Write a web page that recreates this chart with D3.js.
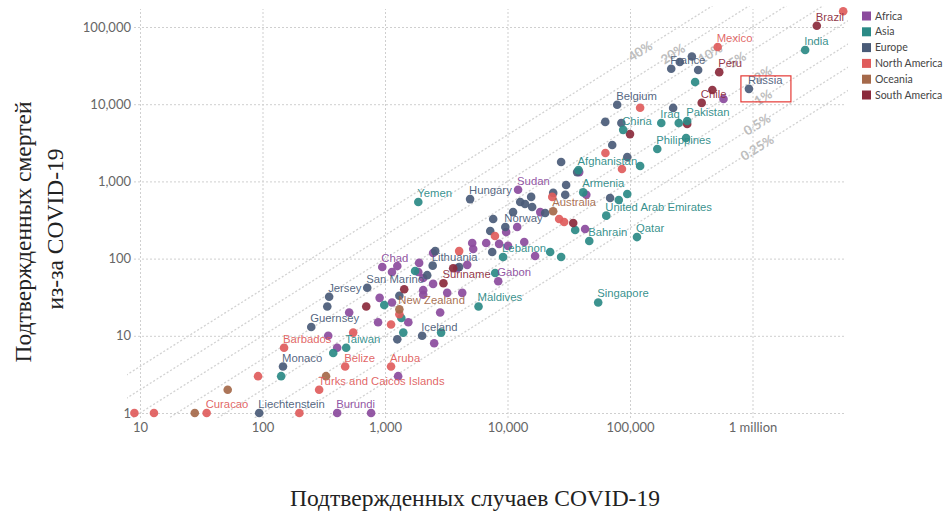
<!DOCTYPE html>
<html><head><meta charset="utf-8">
<script src="https://cdn.jsdelivr.net/npm/d3@7"></script>
<style>body{margin:0;background:#fff}svg{display:block}</style>
</head><body>
<svg id="chart" width="948" height="512"></svg>
<script>
// ---------- data ----------
const continents = ["Africa","Asia","Europe","North America","Oceania","South America"];
const continentColors = ["#8b4b9d","#2b8a86","#4a5b78","#e05c5c","#a5694a","#8b2a3c"];

const xTicks = [10,100,1000,10000,100000,1000000];
const xTickLabels = ["10","100","1,000","10,000","100,000","1 million"];
const yTicks = [1,10,100,1000,10000,100000];
const yTickLabels = ["1","10","100","1,000","10,000","100,000"];

const rates = [0.4,0.2,0.1,0.05,0.02,0.01,0.005,0.0025];
const rateLabels = ["40%","20%","10%","5%","2%","1%","0.5%","0.25%"];
const rateLabelCases = [121000,224000,452000,750000,1220000,1220000,1090000,1090000];

// labelled countries: name, continent, confirmed cases, confirmed deaths
const labelled = [
  ["Brazil","South America",3350000,104000],
  ["Mexico","North America",520000,55000],
  ["India","Asia",2690000,50400],
  ["Peru","South America",535000,26000],
  ["France","Europe",217000,28800],
  ["Russia","Europe",935000,15800],
  ["Chile","South America",385000,10400],
  ["Belgium","Europe",78600,9850],
  ["Iraq","Asia",180000,5700],
  ["Pakistan","Asia",293000,6050],
  ["China","Asia",88000,4650],
  ["Philippines","Asia",167000,2630],
  ["Afghanistan","Asia",38000,1400],
  ["Armenia","Asia",41500,720],
  ["Sudan","Africa",12200,780],
  ["Hungary","Europe",4950,590],
  ["Yemen","Asia",1870,540],
  ["Australia","Oceania",23600,410],
  ["Norway","Europe",9600,257],
  ["United Arab Emirates","Asia",64000,360],
  ["Bahrain","Asia",46500,169],
  ["Qatar","Asia",114000,190],
  ["Lebanon","Asia",9200,105],
  ["Chad","Africa",950,78],
  ["Lithuania","Europe",2450,81],
  ["San Marino","Europe",716,42],
  ["Suriname","South America",3000,48],
  ["Gabon","Africa",8400,51],
  ["Jersey","Europe",350,32],
  ["New Zealand","Oceania",1310,22],
  ["Maldives","Asia",5800,24],
  ["Singapore","Asia",55000,27],
  ["Guernsey","Europe",250,13],
  ["Iceland","Europe",2010,10],
  ["Barbados","North America",150,7],
  ["Taiwan","Asia",482,7],
  ["Monaco","Europe",147,4],
  ["Belize","North America",473,4],
  ["Aruba","North America",1120,4],
  ["Turks and Caicos Islands","North America",290,2],
  ["Curacao","North America",35,1],
  ["Liechtenstein","Europe",94,1],
  ["Burundi","Africa",407,1]
];

// unlabelled countries by continent: [cases, deaths]
const africa = [[580000,11700],[38500,1320],[44000,670],[18500,400],[43000,242],[9750,221],[12000,257],[5150,159],[5250,133],[6700,159],[8540,155],[10100,146],[13700,164],[16800,108],[2470,118],[1140,67],[1260,80],[1900,88],[1870,67],[2050,56],[2470,47],[3880,75],[4690,83],[2050,39],[2050,34],[3220,36],[4270,36],[2820,20],[904,31],[1140,27],[1550,15],[2520,8],[1280,3],[770,1],[510,20],[344,10],[407,7],[878,15]];
const asia = [[340000,19400],[250000,5700],[287000,3650],[121000,1580],[81000,575],[95000,687],[35700,235],[22300,122],[27400,105],[7930,65],[1760,69],[986,25],[1360,17],[1410,11],[2870,11],[378,6],[142,3]];
const europe = [[320000,41500],[255000,35200],[360000,27700],[225000,8950],[62800,5900],[85000,5700],[71600,2960],[95000,2070],[27400,1780],[37000,1320],[30100,900],[29600,670],[23600,710],[68800,610],[12700,540],[15600,630],[13900,510],[15900,466],[20300,390],[11100,400],[7640,326],[7230,228],[7500,122],[2570,125],[2210,61],[4030,78],[338,24],[1260,9],[1310,33]];
const northAmerica = [[5500000,160000],[121000,9000],[63000,2330],[86000,1450],[23200,630],[26400,326],[29000,298],[7900,196],[4030,125],[1120,14],[550,11],[1310,19],[92,3],[9,1],[13,1],[200,1]];
const oceania = [[52,2],[28,1],[330,3]];
const southAmerica = [[470000,15300],[293000,5550],[100000,4100],[34400,289],[1435,40],[703,24],[3600,75]];

const highlighted = "Russia";

// ---------- drawing ----------
const svg = d3.select("#chart");
const plot = {l:127, r:848, t:6, b:418};
const x = d3.scaleLog().domain([10,1e6]).range([140,752.5]);
const y = d3.scaleLog().domain([1,1e5]).range([413,27]);
const color = d3.scaleOrdinal().domain(continents).range(continentColors);

svg.append("defs").append("clipPath").attr("id","clip")
  .append("rect").attr("x",plot.l).attr("y",plot.t)
  .attr("width",plot.r-plot.l).attr("height",plot.b-plot.t);

// grid + axes
const gx = svg.append("g").attr("transform",`translate(0,${plot.b})`)
  .call(d3.axisBottom(x).tickValues(xTicks).tickFormat((d,i)=>xTickLabels[i])
        .tickSize(-(plot.b-plot.t-3)).tickPadding(5));
gx.select(".domain").remove();
gx.selectAll(".tick line").attr("stroke","#cfcfcf").attr("stroke-dasharray","2,2");
gx.selectAll(".tick text").attr("font-family","Lato, sans-serif").attr("font-size",13).attr("fill","#666");

const gy = svg.append("g").attr("transform",`translate(134,0)`)
  .call(d3.axisLeft(y).tickValues(yTicks).tickFormat((d,i)=>yTickLabels[i])
        .tickSize(-(plot.r-2-134)).tickPadding(3));
gy.select(".domain").remove();
gy.selectAll(".tick line").attr("stroke","#cfcfcf").attr("stroke-dasharray","2,2");
gy.selectAll(".tick text").attr("font-family","Lato, sans-serif").attr("font-size",13).attr("fill","#666");

// fatality-rate reference lines
const diag = svg.append("g").attr("clip-path","url(#clip)");
const line = d3.line().x(d=>x(d[0])).y(d=>y(d[1]));
diag.selectAll("path").data(rates).join("path")
  .attr("d",r=>line([[0.5,0.5*r],[1e8,1e8*r]]))
  .attr("fill","none").attr("stroke","#d2d2d2").attr("stroke-width",1.3).attr("stroke-dasharray","2,2");

const angle = Math.atan2(y(1000)-y(100), x(1000)-x(100))*180/Math.PI;
svg.append("g").selectAll("text").data(rates).join("text")
  .attr("transform",(r,i)=>`translate(${x(rateLabelCases[i])},${y(rateLabelCases[i]*r)}) rotate(${angle})`)
  .attr("text-anchor","middle").attr("dy","0.35em")
  .attr("font-family","Lato, sans-serif").attr("font-size",13).attr("font-weight",700)
  .attr("fill","#bdbdbd").text((r,i)=>rateLabels[i]);

// points
const groups = [["Africa",africa],["Asia",asia],["Europe",europe],["North America",northAmerica],["Oceania",oceania],["South America",southAmerica]];
const pts = [];
groups.forEach(([c,arr])=>arr.forEach(d=>pts.push({continent:c,cases:d[0],deaths:d[1]})));
labelled.forEach(d=>pts.push({name:d[0],continent:d[1],cases:d[2],deaths:d[3]}));

svg.append("g").selectAll("circle").data(pts).join("circle")
  .attr("cx",d=>x(d.cases)).attr("cy",d=>y(d.deaths)).attr("r",4.3)
  .attr("fill",d=>color(d.continent)).attr("fill-opacity",0.92);

// labels
svg.append("g").selectAll("text").data(pts.filter(d=>d.name)).join("text")
  .attr("x",d=>x(d.cases)-1).attr("y",d=>y(d.deaths)-5)
  .attr("font-family","'Liberation Sans', Arial, sans-serif").attr("font-size",11.3)
  .attr("fill",d=>color(d.continent)).attr("fill-opacity",0.95)
  .text(d=>d.name);

// highlight box
const hp = pts.find(d=>d.name===highlighted);
svg.append("rect").attr("x",x(hp.cases)-8).attr("y",y(hp.deaths)-13)
  .attr("width",50).attr("height",26).attr("fill","none")
  .attr("stroke","#e53935").attr("stroke-width",1.2);

// legend
const lg = svg.append("g").attr("transform","translate(862,16)");
const li = lg.selectAll("g").data(continents).join("g").attr("transform",(d,i)=>`translate(0,${i*15.8})`);
li.append("rect").attr("x",0).attr("y",-4.5).attr("width",9).attr("height",9).attr("fill",d=>color(d));
li.append("text").attr("x",13).attr("dy","0.35em").attr("font-family","Lato, sans-serif")
  .attr("font-size",10.5).attr("fill","#444").text(d=>d);

// axis titles
svg.append("text").attr("x",475).attr("y",506).attr("text-anchor","middle")
  .attr("font-family","'Liberation Serif', 'DejaVu Serif', serif").attr("font-size",23.5).attr("fill","#222")
  .text("Подтвержденных случаев COVID-19");
const yt = svg.append("g").attr("font-family","'Liberation Serif', 'DejaVu Serif', serif").attr("font-size",23.5).attr("fill","#222").attr("text-anchor","middle");
yt.append("text").attr("transform","translate(31,232) rotate(-90)").text("Подтвержденных смертей");
yt.append("text").attr("transform","translate(63,229) rotate(-90)").text("из-за COVID-19");
</script>
</body></html>
